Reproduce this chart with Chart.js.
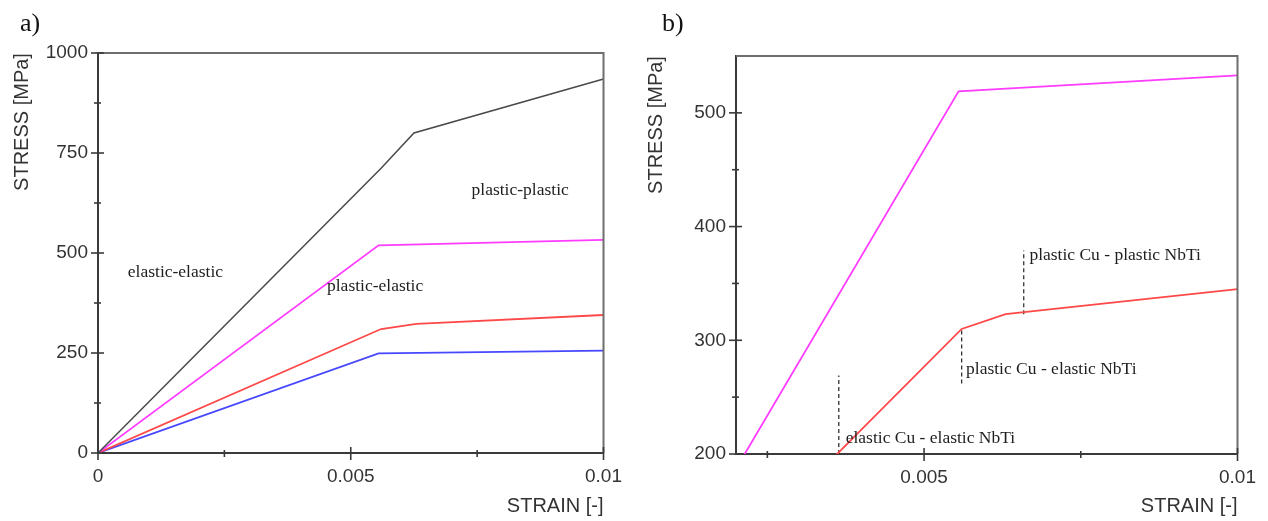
<!DOCTYPE html>
<html>
<head>
<meta charset="utf-8">
<script src="https://cdn.jsdelivr.net/npm/chart.js@4/dist/chart.umd.min.js"></script>
<style>
  body { margin: 0; background: #fff; }
  #wrap { position: relative; width: 1268px; height: 521px; }
  canvas { position: absolute; top: 0; }
  #chartA { left: 0; }
  #chartB { left: 634px; }
</style>
</head>
<body>
<div id="wrap">
  <canvas id="chartA" width="634" height="521"></canvas>
  <canvas id="chartB" width="634" height="521"></canvas>
</div>
<script>
// break points of the stress-strain curves (strain [-], stress [MPa])
const strainBlack = [0, 0.0056, 0.00625, 0.01];
const stressBlack = [0, 712, 800, 935];
const strainMagenta = [0, 0.00555, 0.01];
const stressMagenta = [0, 519, 533];
const strainRed = [0, 0.0056, 0.0063, 0.01];
const stressRed = [0, 310, 323, 345];
const strainBlue = [0, 0.00555, 0.01];
const stressBlue = [0, 249, 256];

// axis ticks
const xTicksA = [0, 0.005, 0.01];
const xMinorA = [0.0025, 0.0075];
const yTicksA = [0, 250, 500, 750, 1000];
const yMinorA = [125, 375, 625, 875];
const xTicksB = [0.005, 0.01];
const xMinorB = [0.0025, 0.0075];
const yTicksB = [200, 300, 400, 500];
const yMinorB = [250, 350, 450];

// dashed markers in b): strain, stress from, stress to
const markStrain = [0.00364, 0.0056, 0.00659];
const markFrom = [200, 262, 323];
const markTo = [269, 310, 379];

// region names
const labelsA = ['elastic-elastic', 'plastic-elastic', 'plastic-plastic'];
const labelsB = ['elastic Cu - elastic NbTi', 'plastic Cu - elastic NbTi', 'plastic Cu - plastic NbTi'];

// where the region names sit (strain, stress of left/middle of text)
const labelPosA = [[0.00059, 452], [0.00453, 416], [0.00739, 657]];
const labelPosB = [[0.00375, 214], [0.00567, 274], [0.00668, 375]];

const pts = (xs, ys) => xs.map((v, i) => ({ x: v, y: ys[i] }));

function curve(xs, ys, color, width) {
  return {
    data: pts(xs, ys),
    showLine: true,
    borderColor: color,
    borderWidth: width,
    pointRadius: 0,
    tension: 0
  };
}

function marker(i) {
  return {
    data: pts([markStrain[i], markStrain[i]], [markFrom[i], markTo[i]]),
    showLine: true,
    borderColor: '#222',
    borderWidth: 1.2,
    borderDash: [4, 3],
    pointRadius: 0
  };
}

const fmt = v => (v === 0 ? '0' : String(+v.toFixed(4)));

// frame, crossing tick marks, titles and region names
const decor = {
  id: 'decor',
  afterDraw(chart, args, o) {
    const { ctx, chartArea: a, scales: { x, y } } = chart;
    ctx.save();
    ctx.strokeStyle = '#6e6e6e';
    ctx.lineWidth = 2;
    ctx.beginPath();
    ctx.moveTo(a.left, a.top);
    ctx.lineTo(a.right, a.top);
    ctx.lineTo(a.right, a.bottom);
    ctx.stroke();

    ctx.strokeStyle = '#3a3a3a';
    ctx.lineWidth = 1.6;
    const tickX = (v, len) => {
      const px = x.getPixelForValue(v);
      ctx.beginPath(); ctx.moveTo(px, a.bottom - len); ctx.lineTo(px, a.bottom + len + 1); ctx.stroke();
    };
    const tickY = (v, len) => {
      const py = y.getPixelForValue(v);
      ctx.beginPath(); ctx.moveTo(a.left - len - 1, py); ctx.lineTo(a.left + len, py); ctx.stroke();
    };
    o.xMajor.forEach(v => tickX(v, 6));
    o.xMinor.forEach(v => tickX(v, 3));
    o.yMajor.forEach(v => tickY(v, 6));
    o.yMinor.forEach(v => tickY(v, 3));

    ctx.fillStyle = '#333';
    ctx.font = '20px "Liberation Sans", Arial, sans-serif';
    ctx.textAlign = 'right';
    ctx.textBaseline = 'middle';
    ctx.fillText('STRAIN [-]', a.right, 506);
    ctx.save();
    ctx.translate(o.yTitleX, o.yTitleY);
    ctx.rotate(-Math.PI / 2);
    ctx.textAlign = 'center';
    ctx.fillText('STRESS [MPa]', 0, 0);
    ctx.restore();

    ctx.fillStyle = '#111';
    ctx.font = '26px "Liberation Serif", "Times New Roman", serif';
    ctx.textAlign = 'left';
    ctx.textBaseline = 'alphabetic';
    ctx.fillText(o.letter, o.letterX, 31);

    ctx.fillStyle = '#1e1e1e';
    ctx.font = '17.5px "Liberation Serif", "Times New Roman", serif';
    ctx.textBaseline = 'middle';
    o.labels.forEach((t, i) => {
      const [sx, sy] = o.labelPos[i];
      ctx.fillText(t, x.getPixelForValue(sx), y.getPixelForValue(sy));
    });
    ctx.restore();
  }
};

function makeChart(id, datasets, xr, yr, yWidth, xHeight, pad, o) {
  return new Chart(document.getElementById(id), {
    type: 'scatter',
    data: { datasets },
    plugins: [decor],
    options: {
      responsive: false,
      animation: false,
      devicePixelRatio: 1,
      layout: { padding: pad },
      plugins: { legend: { display: false }, tooltip: { enabled: false }, decor: o },
      scales: {
        x: {
          type: 'linear',
          min: xr[0],
          max: xr[1],
          afterBuildTicks: s => { s.ticks = o.xMajor.map(v => ({ value: v })); },
          afterFit: s => { s.height = xHeight; },
          grid: { display: false, drawTicks: false },
          border: { color: '#3a3a3a', width: 2 },
          ticks: {
            callback: fmt,
            color: '#333',
            padding: 12,
            maxRotation: 0,
            font: { family: '"Liberation Sans", Arial, sans-serif', size: 19 }
          }
        },
        y: {
          type: 'linear',
          min: yr[0],
          max: yr[1],
          afterBuildTicks: s => { s.ticks = o.yMajor.map(v => ({ value: v })); },
          afterFit: s => { s.width = yWidth; },
          grid: { display: false, drawTicks: false },
          border: { color: '#3a3a3a', width: 2 },
          ticks: {
            callback: fmt,
            color: '#333',
            padding: 10,
            font: { family: '"Liberation Sans", Arial, sans-serif', size: 19 }
          }
        }
      }
    }
  });
}

makeChart('chartA', [
  curve(strainBlack, stressBlack, '#4a4a4a', 1.5),
  curve(strainMagenta, stressMagenta, '#ff3cff', 1.8),
  curve(strainRed, stressRed, '#ff4848', 1.8),
  curve(strainBlue, stressBlue, '#4848ff', 1.8)
], [0, 0.01], [0, 1000], 98, 68, { top: 53, right: 29 }, {
  xMajor: xTicksA, xMinor: xMinorA, yMajor: yTicksA, yMinor: yMinorA,
  yTitleX: 22, yTitleY: 122, letter: 'a)', letterX: 20,
  labels: labelsA, labelPos: labelPosA
});

makeChart('chartB', [
  curve(strainMagenta, stressMagenta, '#ff3cff', 1.8),
  curve(strainRed, stressRed, '#ff4848', 1.8),
  marker(0), marker(1), marker(2)
], [0.002, 0.01], [200, 550], 102, 67, { top: 56, right: 26 }, {
  xMajor: xTicksB, xMinor: xMinorB, yMajor: yTicksB, yMinor: yMinorB,
  yTitleX: 22, yTitleY: 125, letter: 'b)', letterX: 28,
  labels: labelsB, labelPos: labelPosB
});
</script>
</body>
</html>
